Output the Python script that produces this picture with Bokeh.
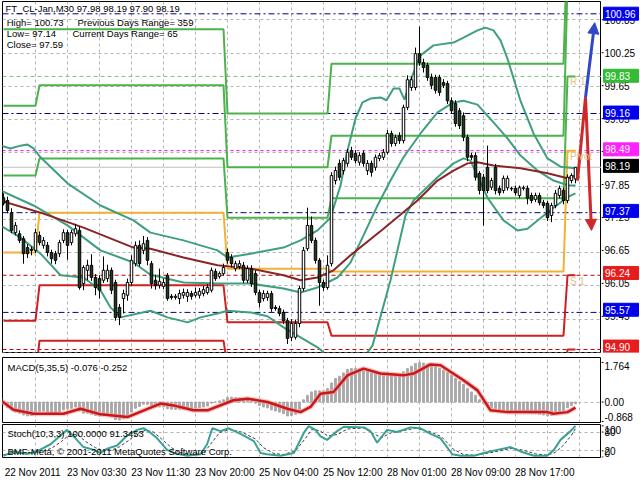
from bokeh.plotting import figure
from bokeh.layouts import column, row
from bokeh.models import Range1d, FixedTicker, Span, Label, Arrow, NormalHead, ColumnDataSource
from bokeh.core.properties import value
from bokeh.embed import file_html
from bokeh.resources import INLINE

FONT = "Liberation Sans"
MAIN_W = 601
SIDE_W = 39

# ---------------- data (M30 bars) ----------------
opens = [
    97.64, 97.59, 97.37, 97.01, 96.99, 96.90, 96.74, 96.71, 96.69, 96.96,
    96.78, 96.78, 96.65, 96.63, 96.63, 96.87, 97.01, 96.83, 96.99, 97.05,
    96.09, 96.33, 96.42, 96.20, 96.18, 96.15, 96.18, 96.33, 96.11, 95.66,
    95.82, 95.88, 96.11, 96.45, 96.78, 96.69, 96.87, 96.45, 96.15, 96.06,
    96.04, 96.24, 95.86, 95.84, 95.82, 95.88, 95.86, 95.91, 95.88, 95.88,
    95.91, 95.93, 95.97, 96.31, 96.22, 96.27, 96.65, 96.56, 96.36, 96.40,
    96.42, 96.15, 96.36, 96.27, 95.93, 95.82, 95.84, 95.91, 95.66, 95.64,
    95.57, 95.42, 95.12, 95.12, 95.37, 96.00, 96.72, 97.14, 96.87, 96.51,
    96.11, 96.02, 96.45, 97.95, 98.26, 98.13, 98.26, 98.49, 98.44, 98.28,
    98.44, 98.13, 98.26, 98.19, 98.35, 98.37, 98.46, 98.80, 98.62, 98.76,
    98.67, 99.27, 99.63, 99.63, 100.24, 100.08, 100.03, 99.81, 99.81, 99.81,
    99.72, 99.70, 99.39, 99.34, 99.21, 99.12, 98.73, 98.40, 98.40, 98.08,
    98.01, 98.19, 97.83, 98.19, 97.81, 97.77, 97.82, 97.81, 97.81, 97.68,
    97.81, 97.81, 97.68, 97.61, 97.68, 97.55, 97.54, 97.32, 97.50, 97.68,
    97.77, 97.59, 97.95, 97.98]
closes = [
    97.54, 97.41, 97.05, 97.14, 96.87, 96.63, 96.63, 96.69, 97.01, 96.83,
    96.87, 96.65, 96.54, 96.51, 96.83, 97.01, 96.78, 97.01, 97.08, 96.02,
    96.38, 96.42, 96.20, 96.02, 95.97, 96.33, 96.33, 95.97, 95.48, 95.48,
    95.91, 96.11, 96.51, 96.78, 96.45, 96.81, 96.51, 96.09, 96.06, 96.13,
    96.11, 95.82, 95.84, 95.86, 95.91, 95.93, 95.93, 95.86, 95.93, 95.95,
    95.98, 96.02, 96.33, 96.18, 96.27, 96.38, 96.51, 96.45, 96.45, 96.45,
    96.15, 96.36, 96.09, 95.93, 95.75, 95.91, 95.91, 95.64, 95.64, 95.55,
    95.42, 95.10, 95.37, 95.37, 96.00, 96.69, 97.14, 96.87, 96.51, 96.11,
    96.02, 96.42, 98.04, 98.13, 98.01, 98.31, 98.46, 98.37, 98.31, 98.40,
    98.26, 98.26, 98.10, 98.37, 98.40, 98.46, 98.80, 98.62, 98.73, 98.67,
    99.27, 99.77, 99.77, 100.24, 100.08, 99.99, 99.81, 99.67, 99.58, 99.54,
    99.67, 99.39, 99.21, 98.98, 98.94, 98.73, 98.37, 98.37, 98.01, 97.77,
    97.77, 97.77, 97.95, 97.77, 97.73, 97.99, 97.99, 97.80, 97.73, 97.82,
    97.82, 97.63, 97.59, 97.68, 97.55, 97.50, 97.28, 97.50, 97.72, 97.81,
    97.59, 98.01, 98.04, 98.19]
highs = [
    97.72, 97.66, 97.45, 97.20, 97.05, 96.95, 96.80, 96.76, 97.08, 97.03,
    96.93, 96.84, 96.70, 96.68, 96.88, 97.07, 97.06, 97.06, 97.17, 97.12,
    96.42, 96.52, 96.62, 96.26, 96.24, 96.58, 96.43, 96.38, 96.16, 95.72,
    95.98, 96.18, 96.60, 96.85, 96.87, 96.95, 96.93, 96.50, 96.25, 96.36,
    96.18, 96.28, 95.90, 95.90, 95.98, 96.00, 95.99, 95.96, 96.02, 96.01,
    96.05, 96.08, 96.38, 96.36, 96.31, 96.45, 96.72, 96.62, 96.50, 96.51,
    96.48, 96.42, 96.42, 96.33, 95.98, 95.97, 95.96, 95.96, 95.70, 95.69,
    95.62, 95.47, 95.45, 95.44, 96.05, 96.75, 97.46, 97.30, 96.92, 96.55,
    96.16, 96.60, 98.10, 98.20, 98.33, 98.36, 98.52, 98.56, 98.50, 98.46,
    98.49, 98.32, 98.31, 98.42, 98.45, 98.52, 98.86, 98.85, 98.78, 98.82,
    99.32, 99.85, 99.83, 100.35, 100.73, 100.15, 100.08, 99.88, 99.86, 99.86,
    99.78, 99.75, 99.45, 99.40, 99.26, 99.18, 98.78, 98.45, 98.46, 98.12,
    98.07, 98.58, 98.00, 98.25, 97.86, 98.04, 98.04, 97.84, 97.86, 97.86,
    97.86, 97.86, 97.73, 97.73, 97.73, 97.60, 97.58, 97.55, 97.78, 97.86,
    97.82, 98.06, 98.08, 98.19]
lows = [
    97.50, 97.36, 97.00, 96.96, 96.82, 96.45, 96.55, 96.60, 96.64, 96.78,
    96.72, 96.58, 96.45, 96.44, 96.57, 96.82, 96.52, 96.78, 96.94, 95.98,
    95.97, 96.15, 96.14, 95.88, 95.82, 96.10, 96.12, 95.90, 95.42, 95.34,
    95.55, 95.78, 96.05, 96.40, 96.40, 96.62, 96.42, 96.00, 95.98, 96.00,
    95.99, 95.78, 95.80, 95.80, 95.72, 95.82, 95.76, 95.80, 95.84, 95.82,
    95.86, 95.89, 95.93, 96.14, 96.18, 96.23, 96.45, 96.38, 96.31, 96.35,
    96.10, 96.10, 96.03, 95.88, 95.66, 95.77, 95.78, 95.58, 95.60, 95.50,
    95.36, 95.00, 95.05, 95.08, 95.30, 95.95, 96.68, 96.82, 96.45, 95.69,
    95.96, 95.98, 96.40, 97.88, 97.95, 98.06, 98.20, 98.32, 98.26, 98.22,
    98.20, 98.05, 98.02, 98.13, 98.30, 98.32, 98.42, 98.56, 98.57, 98.61,
    98.62, 99.22, 99.57, 99.58, 100.02, 99.90, 99.75, 99.60, 99.52, 99.48,
    99.62, 99.33, 99.15, 98.92, 98.88, 98.66, 98.30, 98.32, 97.95, 97.70,
    97.14, 97.72, 97.78, 97.70, 97.68, 97.72, 97.77, 97.76, 97.68, 97.63,
    97.77, 97.52, 97.54, 97.56, 97.50, 97.45, 97.22, 97.20, 97.45, 97.63,
    97.52, 97.54, 97.90, 97.90]

# Bollinger bands / moving average (bar index, price)
bb_up_x = [-0.75, 1.75, 4.25, 6, 7.5, 9.25, 16, 24.25, 32.5, 36.75, 45, 53.5, 56, 61.75, 70, 74.25,
           78.5, 81.75, 84.25, 86, 88, 89.75, 91.75, 94.25, 95.75, 97.5, 99, 100.25, 101.75, 104.25,
           107.5, 112.5, 115, 118.5, 120.5, 122.5, 124.25, 126, 129.25, 132.5, 136, 139.25, 143]
bb_up_y = [98.58, 98.53, 98.58, 98.60, 98.53, 98.37, 97.90, 97.50, 97.23, 97.01, 96.87, 96.69, 96.56, 96.63,
           96.74, 96.87, 97.05, 97.28, 97.86, 98.49, 99.07, 99.36, 99.43, 99.45, 99.40, 99.61, 99.61,
           99.41, 99.76, 100.21, 100.39, 100.44, 100.53, 100.66, 100.71, 100.66, 100.48, 100.15, 99.39,
           98.80, 98.35, 98.20, 98.17]
bb_mid_x = [-0.75, 7.5, 16, 24.25, 32.5, 36.75, 45, 53.5, 61.75, 70, 74.25, 78.5, 83.5, 86.75, 90,
            93.5, 96.75, 100, 104.25, 108.5, 112.5, 115, 118.5, 122.5, 126, 129.25, 133.5, 137.5,
            141.25, 143]
bb_mid_y = [97.77, 97.50, 97.14, 96.69, 96.47, 96.25, 96.11, 96.09, 96.09, 96.00, 95.93, 96.02, 96.20,
            96.47, 96.96, 97.50, 97.95, 98.37, 98.80, 99.18, 99.36, 99.39, 99.32, 99.00, 98.71, 98.40,
            98.13, 97.95, 97.86, 97.86]
bb_lo_x = [-0.75, 4.25, 9.25, 14.25, 20, 24.25, 26.75, 29.25, 36.75, 41, 46, 49.25, 53.5, 56, 61.75,
           66, 70, 74.25, 78.5, 82.5, 88, 92.25, 96.75, 100.5, 102.5, 108.5, 112.5, 115, 116.75, 121,
           125, 128.5, 131, 133.5, 137.5, 141.25, 143]
bb_lo_y = [97.14, 96.92, 96.63, 96.24, 96.20, 95.97, 95.66, 95.48, 95.60, 95.48, 95.39, 95.48, 95.55,
           95.60, 95.57, 95.50, 95.30, 95.12, 94.94, 94.70, 94.56, 94.97, 96.15, 97.32, 97.59, 98.01,
           98.26, 98.35, 98.31, 97.64, 97.23, 97.05, 97.08, 97.23, 97.46, 97.66, 97.72]
ma_x = [-0.75, 9.25, 20, 32.5, 36.75, 45, 53.5, 61.75, 70, 74.25, 78.5, 82.5, 86.75, 95, 103.5, 108.5,
        112.5, 116, 118.5, 122.5, 129.25, 136, 141, 143]
ma_y = [97.59, 97.37, 97.10, 96.74, 96.72, 96.56, 96.42, 96.36, 96.24, 96.15, 96.20, 96.33, 96.60, 97.08,
        97.59, 97.95, 98.13, 98.26, 98.28, 98.22, 98.17, 98.08, 97.99, 98.04]

# daily pivot levels (first bar, last bar of each day)
day_start = [0, 9, 56, 82, 141]
day_end = [8, 55, 81, 140, 143]
r3_levels = [100.68, 100.68, 99.16, 100.06, 102.30]
r2_levels = [99.30, 99.67, 98.19, 98.76, 101.50]
r1_levels = [98.04, 98.35, 97.28, 97.63, 99.83]
p_levels = [96.65, 97.37, 96.36, 96.31, 98.49]
s1_levels = [95.42, 96.06, 95.39, 95.15, 96.24]
s2_levels = [94.40, 95.06, 94.60, 94.20, 94.90]

# price level lines and their right-hand tags
level_prices = [100.96, 99.83, 99.16, 98.49, 98.19, 97.37, 96.24, 95.57, 94.90]
level_texts = ["100.96", "99.83", "99.16", "98.49", "98.19", "97.37", "96.24", "95.57", "94.90"]

# projection arrows (bar, price)
red_up = ([143.5, 145.5], [97.95, 99.45])
red_down = ([145.5, 147.0], [99.45, 97.05])
blue_up = ([145.5, 147.8], [99.45, 100.80])

price_ticks = [94.85, 95.45, 96.05, 96.65, 97.25, 97.85, 98.45, 99.05, 99.65, 100.25, 100.85]

# MACD(5,35,5)
macd_hist = [
    -0.10, -0.25, -0.35, -0.45, -0.50, -0.58, -0.62, -0.60, -0.45, -0.42,
    -0.40, -0.45, -0.50, -0.52, -0.45, -0.35, -0.30, -0.28, -0.22, -0.40,
    -0.50, -0.50, -0.55, -0.60, -0.62, -0.58, -0.58, -0.65, -0.78, -0.80,
    -0.75, -0.62, -0.45, -0.28, -0.20, -0.10, -0.10, -0.18, -0.22, -0.22,
    -0.22, -0.30, -0.32, -0.33, -0.33, -0.32, -0.30, -0.30, -0.28, -0.25,
    -0.22, -0.18, -0.05, 0.00, 0.05, 0.10, 0.20, 0.22, 0.20, 0.18,
    0.12, 0.10, 0.05, -0.05, -0.15, -0.22, -0.26, -0.35, -0.40, -0.45,
    -0.52, -0.62, -0.60, -0.55, -0.40, 0.10, 0.30, 0.45, 0.50, 0.50,
    0.50, 0.60, 0.85, 1.05, 1.15, 1.30, 1.45, 1.50, 1.50, 1.48,
    1.45, 1.38, 1.30, 1.28, 1.25, 1.25, 1.30, 1.28, 1.25, 1.22,
    1.35, 1.50, 1.60, 1.72, 1.764, 1.74, 1.70, 1.65, 1.58, 1.50,
    1.42, 1.32, 1.20, 1.05, 0.92, 0.78, 0.60, 0.45, 0.30, 0.10,
    -0.05, -0.15, -0.25, -0.30, -0.38, -0.40, -0.40, -0.42, -0.43, -0.45,
    -0.45, -0.48, -0.50, -0.52, -0.55, -0.58, -0.62, -0.60, -0.50, -0.42,
    -0.38, -0.25, -0.15, -0.076]
macd_sig_x = [-0.75, 2.5, 7.5, 15, 19.25, 24.25, 31, 39.25, 42.5, 47.5, 51, 57.5, 61, 66, 71, 74.25,
              76.75, 79.25, 82.5, 86, 90, 94.25, 100, 102.5, 106.75, 109.25, 115, 118.5, 121.75, 126,
              136, 137.5, 141, 143]
macd_sig_y = [0.08, -0.34, -0.52, -0.52, -0.30, -0.55, -0.67, -0.07, -0.15, -0.37, -0.37, 0.08, 0.15,
              0.00, -0.30, -0.45, -0.22, 0.37, 0.45, 1.19, 1.49, 1.27, 1.19, 1.27, 1.68, 1.64, 0.97,
              0.52, -0.37, -0.45, -0.45, -0.52, -0.45, -0.252]
macd_ticks = [-0.868, 0.0, 1.764]
macd_tick_labels = ["-0.868", "0.00", "1.764"]

# Stochastic(10,3,3)
st_main_x = [0, 2.6, 5.9, 8.4, 11.75, 14.25, 15.9, 18, 20, 22.6, 24.25, 25.9, 28.4, 30.9, 33.4, 35.1,
             36.75, 38.4, 40.9, 42.6, 45.9, 49.25, 50.9, 52.2, 54.25, 56.3, 59.25, 62.6, 64.25, 65.9,
             69.25, 72.6, 75.1, 76.3, 78, 79.25, 80.9, 83.4, 85.1, 90.1, 91.75, 93.4, 95.9, 98.4,
             101.75, 104.25, 106.75, 109.25, 112.2, 114.25, 117.6, 120.1, 123.4, 126.75, 129.25,
             132.6, 135.9, 137.6, 139.25, 141.75, 143]
st_main_y = [4, 18, 10, 18, 41, 69, 87, 60, 32, 23, 13, 27, 37, 69, 87, 92, 78, 60, 23, 13, 4, 9, 41, 92,
             83, 92, 74, 51, 13, 9, 4, 13, 78, 99, 87, 66, 55, 83, 97, 95, 83, 46, 87, 80, 95, 92, 74,
             60, 9, 4, 4, 13, 23, 32, 18, 4, 4, 23, 55, 83, 100]
st_sig_x = [0, 3, 6, 9, 12, 14.5, 16.5, 18.5, 20.5, 23, 25, 27, 29, 31.5, 33.5, 35.5, 37.5, 39.5, 42, 44,
            47, 50, 52, 54, 56.5, 59.5, 63, 65, 67.5, 70, 73, 75.5, 77, 79, 81, 83.5, 86, 90, 92.5,
            94.5, 97, 100, 103, 106.5, 109.5, 112.5, 115, 118, 121, 124, 127, 130, 133, 136, 138, 140,
            142, 143]
st_sig_y = [8, 12, 14, 15, 28, 50, 72, 72, 50, 30, 20, 22, 33, 55, 75, 86, 80, 58, 30, 15, 8, 12, 45, 78,
            88, 80, 58, 30, 12, 8, 20, 60, 88, 85, 68, 72, 90, 93, 75, 62, 78, 85, 92, 82, 65, 25, 8, 6,
            12, 20, 28, 22, 10, 6, 15, 38, 70, 91.35]
stoch_ticks = [0, 20, 80, 100]
stoch_tick_labels = ["0", "20", "80", "100"]

time_label_bars = [0, 16, 32, 48, 64, 80, 96, 112, 128]
time_labels = ["22 Nov 2011", "23 Nov 03:30", "23 Nov 11:30", "23 Nov 20:00", "25 Nov 04:00",
               "25 Nov 12:00", "28 Nov 01:00", "28 Nov 09:00", "28 Nov 17:00"]

# ---------------- styling ----------------
GRID = "#b4b4b4"
TEAL = "#3f9f7f"
MAROON = "#8b2525"
GREEN = "#4cb34c"
RED = "#d02020"
ORANGE = "#f0b232"
BEIGE = "#e2c48a"

bars = list(range(len(closes)))
grid_bars = list(range(8, 150, 8))
xr = Range1d(-0.25, 149.5)


def make_fig(height, yr, top, bottom, with_x=False):
    p = figure(width=MAIN_W, height=height, x_range=xr, y_range=yr, output_backend="svg",
               toolbar_location=None, y_axis_location=None,
               x_axis_location="below" if with_x else None,
               min_border_left=2, min_border_right=0, min_border_top=top, min_border_bottom=bottom)
    p.outline_line_color = "black"
    p.outline_line_alpha = 1.0
    p.outline_line_width = 1
    p.background_fill_color = "white"
    p.border_fill_color = "white"
    p.xgrid.ticker = FixedTicker(ticks=grid_bars)
    p.xgrid.grid_line_color = GRID
    p.xgrid.grid_line_dash = "3 3"
    p.ygrid.grid_line_color = GRID
    p.ygrid.grid_line_dash = "3 3"
    return p


def make_side(height, yr, top, bottom, ticks, labels, baselines):
    s = figure(width=SIDE_W, height=height, x_range=Range1d(0, SIDE_W), y_range=yr,
               output_backend="svg", toolbar_location=None, x_axis_location=None,
               y_axis_location=None, min_border_left=0, min_border_right=0,
               min_border_top=top, min_border_bottom=bottom)
    s.outline_line_color = None
    s.xgrid.visible = False
    s.ygrid.visible = False
    s.background_fill_color = "white"
    s.border_fill_color = "white"
    tsrc = ColumnDataSource(dict(x0=[0] * len(ticks), x1=[2] * len(ticks), xt=[3] * len(ticks),
                                 y=ticks, t=labels, b=baselines))
    s.segment(x0="x0", y0="y", x1="x1", y1="y", source=tsrc, line_color="black", line_width=1)
    s.text(x="xt", y="y", text="t", text_baseline="b", source=tsrc, text_color="black",
           text_font=value(FONT), text_font_size=value("10px"))
    return s


# ---------------- main price panel (frame y 1..352) ----------------
p1 = make_fig(355, Range1d(94.846, 101.182), 1, 3)
p1.ygrid.ticker = FixedTicker(ticks=price_ticks)

line_colors = ["#000080", "#80c080", "#000080", "#ff00ff", "#c0c0c0", "#000080", "#c00000", "#000080", "#d00000"]
line_dashes = ["6 3 2 3", "4 3", "6 3 2 3", "3 3", "solid", "6 3 2 3", "4 3", "6 3 2 3", "4 3"]
for lv, lc, ld in zip(level_prices, line_colors, line_dashes):
    p1.add_layout(Span(location=lv, dimension="width", line_color=lc, line_dash=ld, line_width=1,
                       level="underlay"))


def steps(levels):
    xs, ys = [], []
    for s, e, v in zip(day_start, day_end, levels):
        xs += [s, e]
        ys += [v, v]
    return xs, ys


for lv, col in [(r3_levels, GREEN), (r2_levels, GREEN), (r1_levels, GREEN), (p_levels, ORANGE),
                (s1_levels, RED), (s2_levels, RED)]:
    xs, ys = steps(lv)
    p1.line(xs, ys, line_color=col, line_width=2)

p1.line(bb_up_x, bb_up_y, line_color=TEAL, line_width=2)
p1.line(bb_mid_x, bb_mid_y, line_color=TEAL, line_width=2)
p1.line(bb_lo_x, bb_lo_y, line_color=TEAL, line_width=2)
p1.line(ma_x, ma_y, line_color=MAROON, line_width=2)

src = ColumnDataSource(dict(
    x=bars,
    hi=[max(h, o, c) for h, o, c in zip(highs, opens, closes)],
    lo=[min(l, o, c) for l, o, c in zip(lows, opens, closes)],
    top=[max(o, c) for o, c in zip(opens, closes)],
    bot=[min(o, c) for o, c in zip(opens, closes)],
    fill=["white" if c >= o else "#1e3d1e" for o, c in zip(opens, closes)],
))
p1.segment(x0="x", y0="lo", x1="x", y1="hi", source=src, line_color="black", line_width=1)
p1.vbar(x="x", width=0.62, top="top", bottom="bot", fill_color="fill", line_color="black",
        line_width=1, source=src)

p1.line(red_up[0], red_up[1], line_color="#d02828", line_width=3)
p1.add_layout(Arrow(end=NormalHead(size=11, fill_color="#d02828", line_color="#d02828"),
                    x_start=red_down[0][0], y_start=red_down[1][0],
                    x_end=red_down[0][1], y_end=red_down[1][1],
                    line_color="#d02828", line_width=3))
p1.add_layout(Arrow(end=NormalHead(size=11, fill_color="#3048c8", line_color="#3048c8"),
                    x_start=blue_up[0][0], y_start=blue_up[1][0],
                    x_end=blue_up[0][1], y_end=blue_up[1][1],
                    line_color="#3048c8", line_width=3))

for txt, yv in [("R 1", 99.74), ("Pivot", 98.38), ("S 1", 96.13)]:
    p1.add_layout(Label(x=141.6, y=yv, text=txt, text_color=BEIGE, text_font=FONT,
                        text_font_size="10px", text_baseline="middle"))

header = [("FT_CL-Jan,M30  97.98 98.19 97.90 98.19", 0.5, 101.06),
          ("High= 100.73", 0.8, 100.81),
          ("Previous Days Range= 359", 18.5, 100.81),
          ("Low= 97.14", 0.8, 100.60),
          ("Current Days Range= 65", 17.25, 100.60),
          ("Close= 97.59", 0.8, 100.40)]
for txt, xv, yv in header:
    p1.add_layout(Label(x=xv, y=yv, text=txt, text_color="black", text_font=FONT,
                        text_font_size="9.5px", text_baseline="middle"))

# side column of the price panel: frame runs a little lower (y 1..355) with the same scale
s1 = make_side(355, Range1d(94.792, 101.182), 1, 0, price_ticks[1:],
               [f"{t:.2f}" for t in price_ticks[1:]], ["middle"] * (len(price_ticks) - 1))
tag_colors = ["#0000ee", "#33bb33", "#0000ee", "#ff22ff", "#000000", "#0000ee", "#e81c1c", "#0000ee", "#e81c1c"]
tag_src = ColumnDataSource(dict(x=[19.5] * len(level_prices), xt=[3.5] * len(level_prices),
                                y=level_prices, t=level_texts, c=tag_colors))
s1.rect(x="x", y="y", width=35, height=13, height_units="screen", fill_color="c", line_color="c",
        source=tag_src)
s1.text(x="xt", y="y", text="t", source=tag_src, text_color="white", text_font=value(FONT),
        text_font_size=value("10px"), text_baseline=value("middle"))

# ---------------- MACD panel (frame y 357..422) ----------------
p2 = make_fig(68, Range1d(-0.913, 1.987), 2, 1)
p2.ygrid.ticker = FixedTicker(ticks=[0.0])
p2.vbar(x=bars, width=0.45, top=macd_hist, bottom=0, fill_color="#a8a8a8", line_color="#a8a8a8")
p2.line(macd_sig_x, macd_sig_y, line_color="#f0a0a0", line_width=5, line_alpha=0.6)
p2.line(macd_sig_x, macd_sig_y, line_color="#c81818", line_width=2.5)
p2.add_layout(Label(x=1.0, y=1.54, text="MACD(5,35,5) -0.076 -0.252", text_color="black",
                    text_font=FONT, text_font_size="9.5px", text_baseline="middle"))
s2 = make_side(68, p2.y_range, 2, 1, macd_ticks, macd_tick_labels, ["bottom", "middle", "top"])

# ---------------- Stochastic panel (frame y 424..462) ----------------
p3 = make_fig(57, Range1d(-1.4, 104.2), 1, 18, with_x=True)
p3.ygrid.ticker = FixedTicker(ticks=[20, 80])
p3.line(st_sig_x, st_sig_y, line_color="#404040", line_width=1, line_dash="3 2")
p3.line(st_main_x, st_main_y, line_color="#3aa196", line_width=2)
p3.add_layout(Label(x=1.0, y=76, text="Stoch(10,3,3) 100.0000 91.3453", text_color="black",
                    text_font=FONT, text_font_size="9.5px", text_baseline="middle"))
p3.add_layout(Label(x=1.0, y=18, text="BMF-Meta, \u00a9 2001-2011 MetaQuotes Software Corp.",
                    text_color="black", text_font=FONT, text_font_size="9.5px",
                    text_baseline="middle"))

label_pos = [b + 7.3 for b in time_label_bars]
p3.xaxis.ticker = FixedTicker(ticks=label_pos)
p3.xaxis.major_label_overrides = {pos: lab for pos, lab in zip(label_pos, time_labels)}
p3.xaxis.major_label_text_font = FONT
p3.xaxis.major_label_text_font_size = "10px"
p3.xaxis.major_label_text_color = "black"
p3.xaxis.axis_line_color = None
p3.xaxis.major_tick_line_color = None
p3.xaxis.minor_tick_line_color = None
p3.xaxis.major_label_standoff = 3
s3 = make_side(57, p3.y_range, 1, 18, stoch_ticks, stoch_tick_labels,
               ["bottom", "middle", "middle", "top"])

layout = column(row(p1, s1, spacing=0), row(p2, s2, spacing=0), row(p3, s3, spacing=0), spacing=0)
open("out.html", "w").write(file_html(layout, INLINE))
